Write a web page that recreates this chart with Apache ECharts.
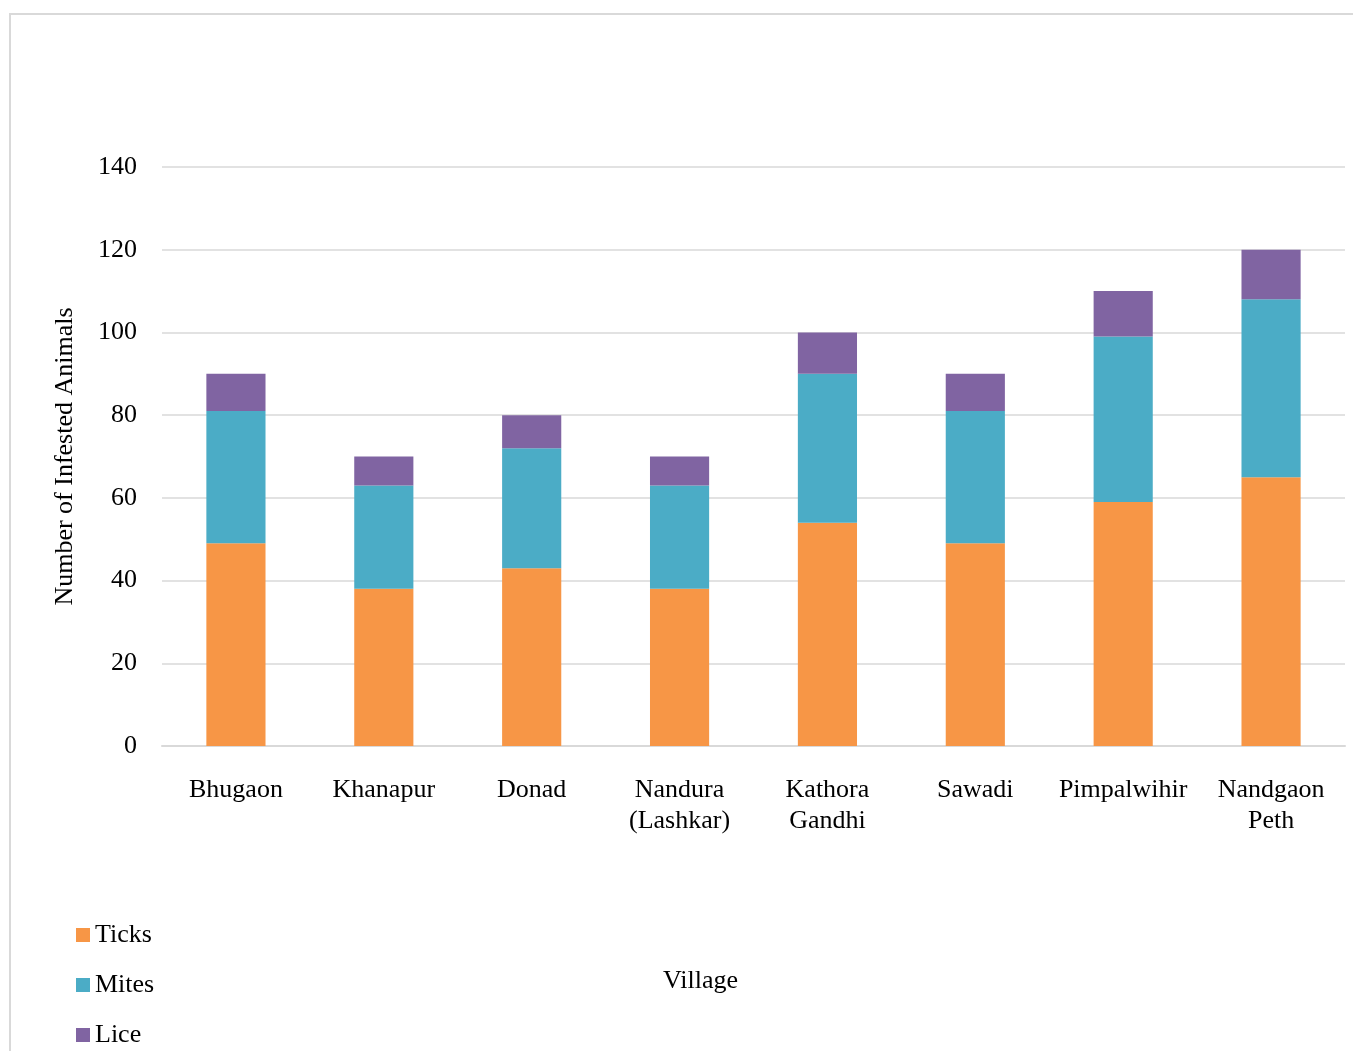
<!DOCTYPE html>
<html>
<head>
<meta charset="utf-8">
<script src="https://cdn.jsdelivr.net/npm/echarts@6/dist/echarts.min.js"></script>
<style>
html,body{margin:0;padding:0;background:#fff;}
#frame{position:absolute;left:9px;top:13px;width:1400px;height:1100px;border:2px solid #d9d9d9;box-sizing:border-box;}
#chart{position:absolute;left:0;top:0;width:1353px;height:1051px;}
</style>
</head>
<body>
<div id="frame"></div>
<div id="chart"></div>
<script>
const villages = ['Bhugaon','Khanapur','Donad','Nandura\n(Lashkar)','Kathora\nGandhi','Sawadi','Pimpalwihir','Nandgaon\nPeth'];
const ticks = [49, 38, 43, 38, 54, 49, 59, 65];
const mites = [32, 25, 29, 25, 36, 32, 40, 43];
const lice  = [9, 7, 8, 7, 10, 9, 11, 12];
const yTicks = [0, 20, 40, 60, 80, 100, 120, 140];
const seriesNames = ['Ticks', 'Mites', 'Lice'];

const font = '"Liberation Serif","Times New Roman",serif';
const FS = 26;
const chart = echarts.init(document.getElementById('chart'));
const mk = (name, data, color) => ({
  name, type: 'bar', stack: 'total', data, barWidth: '40%',
  itemStyle: {color}, emphasis: {disabled: true}
});
const legendTops = [922, 972, 1022];
chart.setOption({
  animation: false,
  textStyle: {fontFamily: font},
  grid: {left: 162, right: 8, top: 167, bottom: 305, containLabel: false},
  legend: seriesNames.map((n, i) => ({
    orient: 'vertical', left: 76, top: legendTops[i], padding: 0,
    itemWidth: 14, itemHeight: 14, itemGap: 0,
    icon: 'rect',
    textStyle: {fontFamily: font, fontSize: FS, color: '#000', padding: [0,0,0,0]},
    data: [n]
  })),
  xAxis: {
    type: 'category', data: villages,
    axisLine: {lineStyle: {color: '#d9d9d9', width: 2}},
    axisTick: {show: false},
    axisLabel: {fontFamily: font, fontSize: FS, color: '#000', margin: 29, lineHeight: 31, interval: 0}
  },
  yAxis: {
    type: 'value', min: yTicks[0], max: yTicks[yTicks.length-1], interval: 20,
    name: 'Number of Infested Animals', nameLocation: 'middle', nameGap: 84,
    nameTextStyle: {fontFamily: font, fontSize: FS, color: '#000'},
    axisLine: {show: false}, axisTick: {show: false},
    splitLine: {lineStyle: {color: '#d9d9d9', width: 1.5}},
    axisLabel: {fontFamily: font, fontSize: FS, color: '#000', margin: 25, padding: [3,0,0,0]}
  },
  graphic: [{
    type: 'text', left: 663, top: 968,
    style: {text: 'Village', font: FS + 'px ' + font, fill: '#000'}
  }],
  series: [
    mk('Ticks', ticks, '#F79646'),
    mk('Mites', mites, '#4BACC6'),
    mk('Lice', lice, '#8064A2')
  ]
});
</script>
</body>
</html>
